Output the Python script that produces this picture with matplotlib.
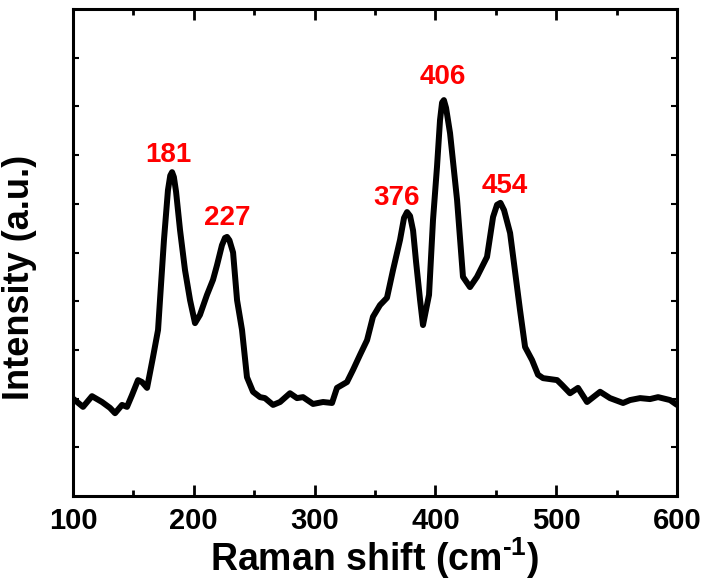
import numpy as np
import matplotlib.pyplot as plt

plt.rcParams['font.family'] = ['Liberation Sans', 'DejaVu Sans']
plt.rcParams['font.weight'] = 'bold'
plt.rcParams['mathtext.fontset'] = 'custom'
plt.rcParams['mathtext.rm'] = 'Liberation Sans:bold'
plt.rcParams['mathtext.it'] = 'Liberation Sans:bold'
plt.rcParams['mathtext.bf'] = 'Liberation Sans:bold'

# Raman spectrum
shift = [100, 108.3, 115.7, 124.0, 130.6, 134.8, 140.6, 144.7, 148.8, 153.8,
         157.1, 161.3, 166.2, 170.4, 172.0, 175.3, 178.6, 180.5, 182.0, 183.5, 185.3, 188.6,
         192.7, 196.9, 201.0, 205.1, 210.9, 215.9, 219.2, 223.3, 225.8, 227.5, 229.5, 232.5,
         235.8, 239.9, 244.0, 249.0, 254.8, 258.9, 265.6, 271.4, 279.6, 285.4,
         290.4, 298.7, 307.0, 314.4, 318.5, 326.8, 331.8, 337.6, 343.4, 348.3,
         354.1, 359.9, 364.9, 370.7, 374.0, 376.5, 379.0, 381.5, 384.0, 387.3, 389.7,
         392.2, 394.7, 398.0, 401.3, 403.8, 405.5, 407.0, 408.8, 412.1, 417.9, 422.8,
         428.6, 434.4, 442.7, 447.7, 451.0, 453.8, 456.8, 461.8, 470.0, 474.2,
         480.0, 484.9, 489.1, 500.7, 504.8, 511.4, 518.0, 525.5, 536.3, 544.5,
         555.3, 561.1, 569.4, 577.6, 584.3, 594.2, 600]
intensity = [2.00, 1.83, 2.05, 1.93, 1.81, 1.70, 1.87, 1.83, 2.07, 2.38,
             2.34, 2.22, 2.85, 3.41, 4.02, 5.26, 6.28, 6.58, 6.65, 6.55, 6.25, 5.46,
             4.64, 4.02, 3.55, 3.72, 4.13, 4.44, 4.74, 5.15, 5.30, 5.32, 5.25, 5.00,
             4.02, 3.41, 2.44, 2.14, 2.03, 2.01, 1.87, 1.93, 2.11, 2.01,
             2.03, 1.89, 1.93, 1.91, 2.22, 2.34, 2.59, 2.90, 3.20, 3.68,
             3.92, 4.07, 4.64, 5.26, 5.71, 5.83, 5.75, 5.45, 4.80, 4.02, 3.51,
             3.82, 4.13, 5.67, 6.76, 7.72, 8.08, 8.13, 7.97, 7.45, 6.08, 4.50,
             4.29, 4.50, 4.91, 5.73, 5.98, 6.02, 5.87, 5.40, 3.82, 3.06,
             2.79, 2.49, 2.42, 2.38, 2.28, 2.11, 2.22, 1.93, 2.14, 2.01,
             1.91, 1.97, 2.01, 1.99, 2.03, 1.97, 1.87]

peak_labels = ['181', '227', '376', '406', '454']
peak_x = [179, 228, 368, 406, 457]
peak_y = [7.0, 5.7, 6.12, 8.6, 6.37]

fig = plt.figure(figsize=(7.06, 5.86), dpi=100)
ax = fig.add_axes([0.1034, 0.1536, 0.8556, 0.831])

ax.plot(shift, intensity, color='black', linewidth=4.3,
        solid_joinstyle='round', solid_capstyle='round')

for lab, x, y in zip(peak_labels, peak_x, peak_y):
    ax.text(x, y, lab, color='red', fontsize=20, fontweight='bold',
            ha='center', va='center')

ax.set_xlim(100, 600)
ax.set_ylim(0, 10)
ax.set_xticks([100, 200, 300, 400, 500, 600])
ax.set_xticks([150, 250, 350, 450, 550], minor=True)
ax.set_yticks(np.arange(1, 10))
ax.set_yticklabels([])

for s in ax.spines.values():
    s.set_linewidth(2.2)

ax.tick_params(axis='x', which='major', direction='in', length=8, width=2,
               labelsize=21, pad=8, top=True)
ax.tick_params(axis='x', which='minor', direction='in', length=4, width=2, top=True)
ax.tick_params(axis='y', which='major', direction='in', length=4, width=1.5, right=True)
ax.tick_params(axis='x', which='both', labeltop=False)

ax.set_xlabel(r'Raman shift (cm$^{\text{-1}}$)', fontsize=27, fontweight='bold', labelpad=0)
ax.set_ylabel('Intensity (a.u.)', fontsize=26, fontweight='bold', labelpad=18)
ax.yaxis.set_label_coords(-0.06, 0.448)

fig.savefig('out.png', dpi=100)
